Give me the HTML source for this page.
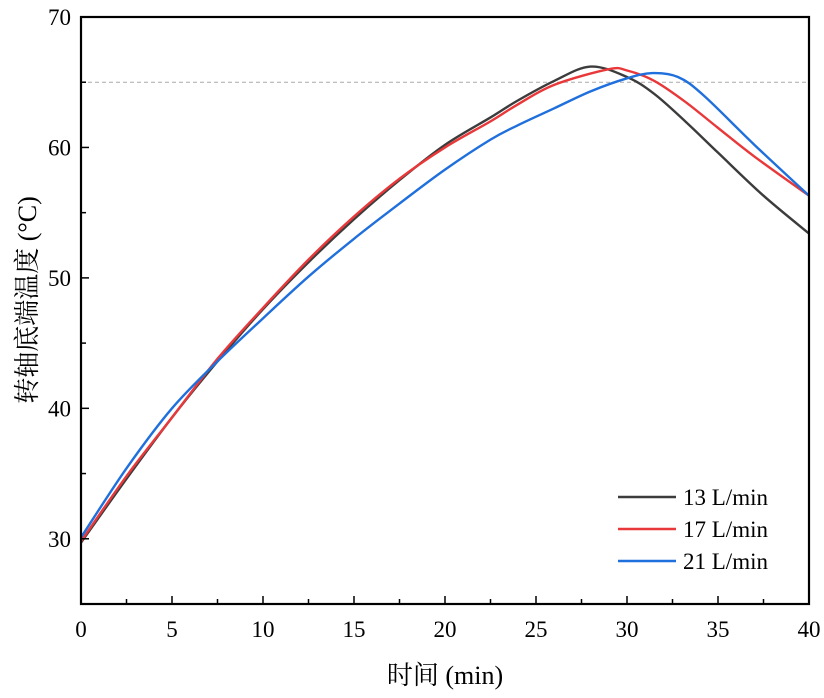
<!DOCTYPE html>
<html><head><meta charset="utf-8"><style>
body{margin:0;background:#fff;}
svg text{font-family:"Liberation Serif","Noto Serif CJK SC",serif;fill:#000;}
</style></head><body>
<svg id="chart" width="824" height="693" xmlns="http://www.w3.org/2000/svg"></svg>
<script>
const xTicks=[0,5,10,15,20,25,30,35,40];
const yTicks=[30,40,50,60,70];
const t13=[0,2.5,5,7.5,10,12.5,15,17.5,20,22.5,24,26,28,30,31.5,33.2,35,37.5,40];
const v13=[29.7,34.6,39.3,43.6,47.6,51.2,54.5,57.5,60.2,62.3,63.6,65.1,66.2,65.4,64.1,62.0,59.6,56.3,53.4];
const t17=[0,2.5,5,7.5,10,12.5,15,17.5,20,22.5,24,26,29,30,31.5,33.2,35,37,40];
const v17=[29.8,34.8,39.3,43.8,47.7,51.4,54.7,57.6,60.0,62.0,63.3,64.8,66.0,65.9,65.1,63.5,61.5,59.3,56.3];
const t21=[0,2.5,5,7.5,10,12.5,15,17.5,20,22.5,24,26,28,30,31.4,32.8,34.2,37,40];
const v21=[30.1,35.4,40.0,43.6,46.9,50.1,53.0,55.7,58.3,60.6,61.7,63.0,64.3,65.3,65.7,65.4,64.0,60.2,56.3];
const refLine=65;
const svg=document.getElementById('chart');
const NS='http://www.w3.org/2000/svg';
const X0=81,X1=809,Y0=604,Y1=17;
const xs=v=>X0+(v-0)/40*(X1-X0);
const ys=v=>Y0-(v-25)/45*(Y0-Y1);
function el(tag,attrs,parent){const e=document.createElementNS(NS,tag);for(const k in attrs)e.setAttribute(k,attrs[k]);(parent||svg).appendChild(e);return e;}
const rl=el('line',{x1:X0,x2:X1,y1:ys(refLine),y2:ys(refLine),stroke:'#aaa','stroke-width':1,'stroke-dasharray':'4,3'});


function path(ts,vs){const p=ts.map((t,i)=>[xs(t),ys(vs[i])]);let d='M'+p[0][0]+','+p[0][1];
for(let i=0;i<p.length-1;i++){const a=p[i-1]||p[i],b=p[i],c=p[i+1],e=p[i+2]||c;
d+=` C${b[0]+(c[0]-a[0])/6},${b[1]+(c[1]-a[1])/6} ${c[0]-(e[0]-b[0])/6},${c[1]-(e[1]-b[1])/6} ${c[0]},${c[1]}`;}return d;}
const series=[[t13,v13,'#3c3c3c','series-13-lmin'],[t17,v17,'#e8383a','series-17-lmin'],[t21,v21,'#1f6fdc','series-21-lmin']];
series.forEach(s=>{const p=el('path',{d:path(s[0],s[1]),fill:'none',stroke:s[2],'stroke-width':2.4});

});
const ax=el('rect',{x:X0,y:Y1,width:X1-X0,height:Y0-Y1,fill:'none',stroke:'#000','stroke-width':2.2});


for(let v=0;v<=40;v+=2.5){const x=xs(v);const m=v%5===0;el('line',{x1:x,x2:x,y1:Y0,y2:Y0-(m?8:5),stroke:'#000','stroke-width':1.5});}
xTicks.forEach(v=>{const t=el('text',{x:xs(v),y:Y0+33,'font-size':23,'text-anchor':'middle'});t.textContent=v;

});
for(let v=25;v<=70;v+=5){const y=ys(v);const m=v%10===0;el('line',{x1:X0,x2:X0+(m?8:5),y1:y,y2:y,stroke:'#000','stroke-width':1.5});}
yTicks.forEach(v=>{const t=el('text',{x:X0-10,y:ys(v)+8,'font-size':23,'text-anchor':'end'});t.textContent=v;

});
const xt=el('text',{x:445,y:684,'font-size':26,'text-anchor':'middle'});xt.textContent='时间 (min)';


const yt=el('text',{x:0,y:0,'font-size':26,'text-anchor':'middle',transform:'translate(36,300) rotate(-90)'});yt.textContent='转轴底端温度 (°C)';


const labels=['13 L/min','17 L/min','21 L/min'];
labels.forEach((l,i)=>{const y=497+i*32;
const ln=el('line',{x1:618,x2:676,y1:y,y2:y,stroke:series[i][2],'stroke-width':2.4});


const t=el('text',{x:683,y:y+8,'font-size':23});t.textContent=l;

});
</script>
</body></html>
